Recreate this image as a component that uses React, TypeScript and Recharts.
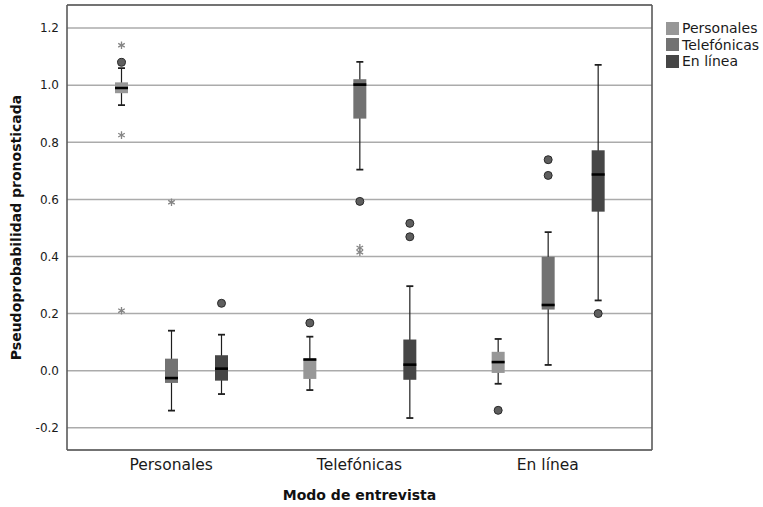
import React from 'react';
import { ComposedChart, Bar, XAxis, YAxis, CartesianGrid, Label } from 'recharts';

const categories = ['Personales', 'Telefónicas', 'En línea'];
const seriesNames = ['Personales', 'Telefónicas', 'En línea'];
const seriesColors = ['#979797', '#727272', '#464646'];
const yTicks = [-0.2, 0, 0.2, 0.4, 0.6, 0.8, 1.0, 1.2];

// [min, q1, median, q3, max] for each category
const personalesBox = [
  [0.93, 0.972, 0.99, 1.01, 1.06],
  [-0.068, -0.029, 0.039, 0.042, 0.119],
  [-0.046, -0.008, 0.03, 0.066, 0.111],
];
const telefonicasBox = [
  [-0.14, -0.043, -0.026, 0.042, 0.14],
  [0.704, 0.883, 1.002, 1.021, 1.082],
  [0.02, 0.214, 0.23, 0.399, 0.485],
];
const enLineaBox = [
  [-0.082, -0.035, 0.007, 0.054, 0.126],
  [-0.166, -0.032, 0.021, 0.109, 0.296],
  [0.246, 0.557, 0.687, 0.772, 1.071],
];

// circles
const personalesOutliers = [[1.08], [0.167], [-0.139]];
const telefonicasOutliers = [[], [0.593], [0.739, 0.684]];
const enLineaOutliers = [[0.236], [0.516, 0.469], [0.2]];

// stars
const personalesExtremes = [[1.14, 0.825, 0.21], [], []];
const telefonicasExtremes = [[0.59], [0.43, 0.415], []];
const enLineaExtremes = [[], [], []];

const boxes = [personalesBox, telefonicasBox, enLineaBox];
const outliers = [personalesOutliers, telefonicasOutliers, enLineaOutliers];
const extremes = [personalesExtremes, telefonicasExtremes, enLineaExtremes];

const data = categories.map((name, i) => {
  const row: any = { name };
  seriesNames.forEach((_, s) => {
    row['s' + s] = { box: boxes[s][i], out: outliers[s][i], ext: extremes[s][i] };
  });
  return row;
});

const rangeOf = (st: any) => {
  const all = [...st.box, ...st.out, ...st.ext];
  return [Math.min(...all), Math.max(...all)];
};

const frame = '#5a5a5a';

function BoxShape(props: any) {
  const { x, y, width, height, stats, color } = props;
  if (!stats) return null;
  const [lo, hi] = rangeOf(stats);
  const top = Math.min(y, y + height);
  const bottom = Math.max(y, y + height);
  const py = (v: number) => (hi === lo ? bottom : bottom - ((v - lo) / (hi - lo)) * (bottom - top));
  const cx = x + width / 2;
  const [mn, q1, med, q3, mx] = stats.box;
  const cap = 3.5;
  return (
    <g>
      <line x1={cx} x2={cx} y1={py(mx)} y2={py(mn)} stroke="#1e1e1e" strokeWidth={1.2} />
      <line x1={cx - cap} x2={cx + cap} y1={py(mx)} y2={py(mx)} stroke="#1e1e1e" strokeWidth={1.8} />
      <line x1={cx - cap} x2={cx + cap} y1={py(mn)} y2={py(mn)} stroke="#1e1e1e" strokeWidth={1.8} />
      <rect x={x} y={py(q3)} width={width} height={Math.max(py(q1) - py(q3), 1)} fill={color} />
      <line x1={x} x2={x + width} y1={py(med)} y2={py(med)} stroke="#000" strokeWidth={2.6} />
      {stats.out.map((v: number, k: number) => (
        <circle key={'o' + k} cx={cx} cy={py(v)} r={4} fill="#5e5e5e" stroke="#2a2a2a" strokeWidth={1} />
      ))}
      {stats.ext.map((v: number, k: number) => {
        const c = py(v);
        return (
          <path
            key={'e' + k}
            d={`M${cx},${c - 3.8}L${cx},${c + 3.8}M${cx - 3.3},${c - 1.9}L${cx + 3.3},${c + 1.9}M${cx - 3.3},${c + 1.9}L${cx + 3.3},${c - 1.9}`}
            stroke="#858585"
            strokeWidth={1.3}
            fill="none"
          />
        );
      })}
    </g>
  );
}

export default function App() {
  return (
    <div style={{ position: 'absolute', left: 0, top: 0, width: 763, height: 507, background: '#fff', fontFamily: 'DejaVu Sans, sans-serif' }}>
      <ComposedChart
        width={763}
        height={507}
        data={data}
        margin={{ top: 4, right: 110, bottom: 0, left: 0 }}
        barSize={13}
        barGap={37}
      >
        <CartesianGrid horizontal vertical={false} stroke="#ababab" strokeWidth={1.5} />
        <XAxis
          dataKey="name"
          height={57}
          padding={{ left: 10, right: 10 }}
          axisLine={{ stroke: frame, strokeWidth: 1.6 }}
          tickLine={false}
          tick={{ fontSize: 15.5, fill: '#1a1a1a' }}
          tickMargin={3}
        >
          <Label
            content={({ viewBox }: any) => (
              <text x={viewBox.x + viewBox.width / 2} y={viewBox.y + 50} textAnchor="middle" fontSize={14} fontWeight="bold" fill="#111">
                Modo de entrevista
              </text>
            )}
          />
        </XAxis>
        <XAxis
          xAxisId="top"
          dataKey="name"
          orientation="top"
          height={1}
          tick={false}
          tickLine={false}
          axisLine={{ stroke: frame, strokeWidth: 1.6 }}
        />
        <YAxis
          type="number"
          width={67}
          domain={[-0.278, 1.281]}
          ticks={yTicks}
          allowDataOverflow
          axisLine={{ stroke: frame, strokeWidth: 1.6 }}
          tickLine={false}
          tick={{ fontSize: 12, fill: '#1a1a1a' }}
          tickFormatter={(v: number) => v.toFixed(1)}
        >
          <Label
            content={({ viewBox }: any) => {
              const lx = viewBox.x + 21;
              const ly = viewBox.y + viewBox.height / 2;
              return (
                <text x={lx} y={ly} transform={`rotate(-90 ${lx} ${ly})`} textAnchor="middle" fontSize={14} fontWeight="bold" fill="#111">
                  Pseudoprobabilidad pronosticada
                </text>
              );
            }}
          />
        </YAxis>
        <YAxis
          yAxisId="right"
          orientation="right"
          type="number"
          width={1}
          domain={[0, 1]}
          tick={false}
          tickLine={false}
          axisLine={{ stroke: frame, strokeWidth: 1.6 }}
        />
        {seriesNames.map((s, i) => (
          <Bar
            key={s}
            name={s}
            dataKey={(d: any) => rangeOf(d['s' + i])}
            fill={seriesColors[i]}
            isAnimationActive={false}
            shape={(p: any) => <BoxShape {...p} stats={p.payload['s' + i]} color={seriesColors[i]} />}
          />
        ))}
      </ComposedChart>
      <div style={{ position: 'absolute', left: 666, top: 20, fontSize: 14, color: '#1a1a1a', lineHeight: '16.5px' }}>
        {seriesNames.map((s, i) => (
          <div key={s} style={{ display: 'flex', alignItems: 'center', whiteSpace: 'nowrap' }}>
            <span style={{ display: 'inline-block', width: 13, height: 13, background: seriesColors[i], marginRight: 3 }} />
            {s}
          </div>
        ))}
      </div>
    </div>
  );
}
